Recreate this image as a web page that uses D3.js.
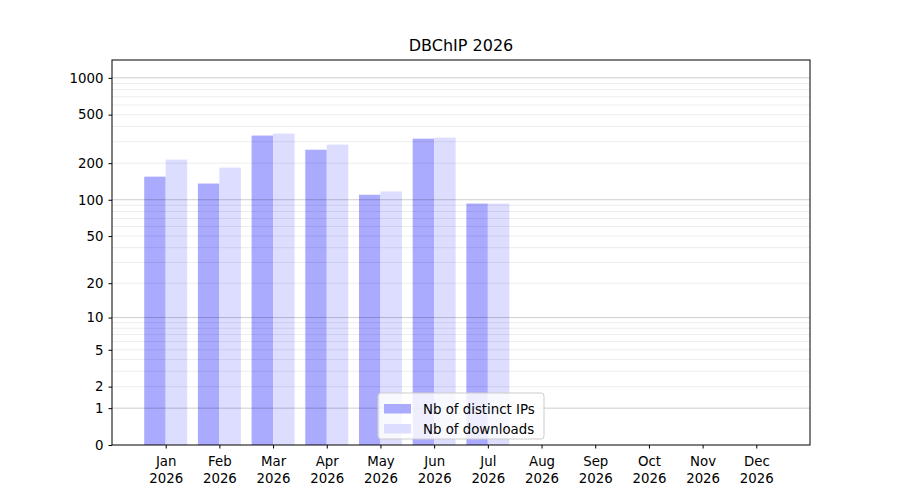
<!DOCTYPE html>
<html lang="en">
  <head>
    <meta charset="utf-8">
    <script src="https://cdn.jsdelivr.net/npm/d3@7"></script>
    <style>
      body{ margin:0; background:#fff; }
      text{ font-family:"DejaVu Sans", sans-serif; }
    </style>
  </head>
  <body>
    <svg></svg>
  <script>
    // values
    var months = ['Jan','Feb','Mar','Apr','May','Jun','Jul','Aug','Sep','Oct','Nov','Dec'];
    var year = '2026';
    var distinctIPs = [155, 136, 337, 258, 110, 318, 93];
    var downloads = [214, 184, 350, 284, 117, 324, 93];
    var yTicks = [0, 1, 2, 5, 10, 20, 50, 100, 200, 500, 1000];
    var majorGrid = [1, 10, 100, 1000];
    var minorGrid = [2,3,4,5,6,7,8,9,20,30,40,50,60,70,80,90,200,300,400,500,600,700,800,900];
    var seriesNames = ['Nb of distinct IPs', 'Nb of downloads'];
    var seriesColors = ['#aaaaff', '#ddddff'];

    var svgwidth = 900;
    var svgheight = 500;
    var margins = { top:60, bottom:55, left:112, right:90 };
    var width = svgwidth - margins.left - margins.right;
    var height = svgheight - margins.top - margins.bottom;

    var svg = d3.select('svg')
                .attr('width', svgwidth)
                .attr('height', svgheight);

    // log(x+1) style axis, symlog with constant 1 does exactly that
    var yScale = d3.scaleSymlog().constant(1)
                   .domain([0, 1400])
                   .range([height, 0]);

    var xScale = d3.scaleLinear()
                   .domain([-1, 12])
                   .range([0, width]);

    var barW = xScale(0.4) - xScale(0);

    var plot = svg.append('g')
                  .attr('transform', 'translate(' + margins.left + ',' + margins.top + ')');

    plot.selectAll('.ip').data(distinctIPs).enter()
        .append('rect').classed('ip', true)
        .attr('x', function(d, i){ return xScale(i - 0.4); })
        .attr('width', barW)
        .attr('y', function(d){ return yScale(d); })
        .attr('height', function(d){ return height - yScale(d); })
        .attr('fill', seriesColors[0]);

    plot.selectAll('.dl').data(downloads).enter()
        .append('rect').classed('dl', true)
        .attr('x', function(d, i){ return xScale(i); })
        .attr('width', barW)
        .attr('y', function(d){ return yScale(d); })
        .attr('height', function(d){ return height - yScale(d); })
        .attr('fill', seriesColors[1]);

    // grid lines sit over the bars
    plot.selectAll('.minor').data(minorGrid).enter()
        .append('line').classed('minor', true)
        .attr('x1', 0).attr('x2', width)
        .attr('y1', function(d){ return yScale(d); })
        .attr('y2', function(d){ return yScale(d); })
        .attr('stroke', '#000').attr('stroke-opacity', 0.075)
        .attr('stroke-width', 1);

    plot.selectAll('.major').data(majorGrid).enter()
        .append('line').classed('major', true)
        .attr('x1', 0).attr('x2', width)
        .attr('y1', function(d){ return yScale(d); })
        .attr('y2', function(d){ return yScale(d); })
        .attr('stroke', '#000').attr('stroke-opacity', 0.2)
        .attr('stroke-width', 1);

    var yAxis = d3.axisLeft(yScale)
                  .tickValues(yTicks)
                  .tickFormat(d3.format('d'))
                  .tickSize(3.5)
                  .tickPadding(5);
    var gy = plot.append('g').call(yAxis);
    gy.select('.domain').remove();
    gy.selectAll('text').style('font-size', '13.33px').attr('fill', '#000');
    gy.selectAll('line').attr('stroke', '#000').attr('stroke-width', 1);

    var xAxis = d3.axisBottom(xScale)
                  .tickValues(d3.range(12))
                  .tickFormat('')
                  .tickSize(3.5);
    var gx = plot.append('g')
                 .attr('transform', 'translate(0,' + height + ')')
                 .call(xAxis);
    gx.select('.domain').remove();
    gx.selectAll('line').attr('stroke', '#000').attr('stroke-width', 1);

    var lbl = gx.selectAll('.tick').append('text')
                .attr('text-anchor', 'middle')
                .attr('fill', '#000')
                .style('font-size', '13.33px');
    lbl.append('tspan').attr('x', 0).attr('y', 21)
       .text(function(d){ return months[d]; });
    lbl.append('tspan').attr('x', 0).attr('y', 38)
       .text(year);

    plot.append('rect')
        .attr('width', width).attr('height', height)
        .attr('fill', 'none').attr('stroke', '#000').attr('stroke-width', 1);

    svg.append('text')
       .attr('x', margins.left + width / 2)
       .attr('y', 51)
       .attr('text-anchor', 'middle')
       .style('font-size', '16px')
       .text('DBChIP ' + year);

    // legend, lower centre
    var legend = svg.append('g').attr('transform', 'translate(378,393)');
    legend.append('rect')
          .attr('width', 166).attr('height', 46)
          .attr('rx', 3)
          .attr('fill', '#fff').attr('fill-opacity', 0.8)
          .attr('stroke', '#ccc').attr('stroke-width', 1);

    var items = legend.selectAll('.item').data(seriesNames).enter()
                      .append('g').classed('item', true)
                      .attr('transform', function(d, i){ return 'translate(0,' + (11 + i * 20) + ')'; });
    items.append('rect')
         .attr('x', 6).attr('y', 0)
         .attr('width', 27).attr('height', 9.5)
         .attr('fill', function(d, i){ return seriesColors[i]; });
    items.append('text')
         .attr('x', 45).attr('y', 9.5)
         .style('font-size', '13.33px')
         .attr('fill', '#000')
         .text(function(d){ return d; });
  </script>
  </body>
</html>
